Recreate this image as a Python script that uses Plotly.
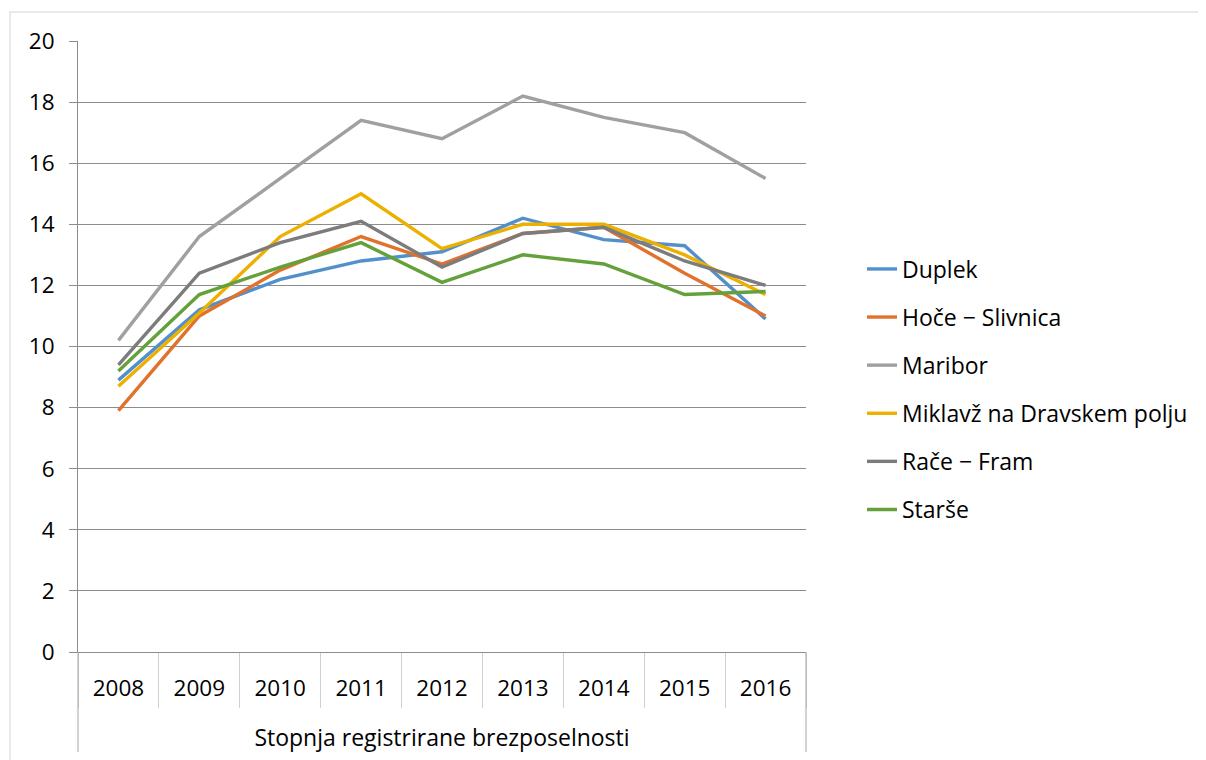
import plotly.graph_objects as go

years = ["2008", "2009", "2010", "2011", "2012", "2013", "2014", "2015", "2016"]
group_label = "Stopnja registrirane brezposelnosti"

duplek = [8.9, 11.2, 12.2, 12.8, 13.1, 14.2, 13.5, 13.3, 10.9]
hoce_slivnica = [7.9, 11.0, 12.5, 13.6, 12.7, 13.7, 13.9, 12.4, 11.0]
maribor = [10.2, 13.6, 15.5, 17.4, 16.8, 18.2, 17.5, 17.0, 15.5]
miklavz = [8.7, 11.1, 13.6, 15.0, 13.2, 14.0, 14.0, 13.0, 11.7]
race_fram = [9.4, 12.4, 13.4, 14.1, 12.6, 13.7, 13.9, 12.8, 12.0]
starse = [9.2, 11.7, 12.6, 13.4, 12.1, 13.0, 12.7, 11.7, 11.8]

series_names = ["Duplek", "Hoče − Slivnica", "Maribor", "Miklavž na Dravskem polju", "Rače − Fram", "Starše"]
series_values = [duplek, hoce_slivnica, maribor, miklavz, race_fram, starse]
colors = ["#5390CB", "#E0722C", "#A0A0A0", "#EBB000", "#7C7C7C", "#64A13B"]

y_ticks = [0, 2, 4, 6, 8, 10, 12, 14, 16, 18, 20]

FONT = "Open Sans"
PLOT_W = 728.0
PLOT_H = 611.0
# the page body adds an 8px offset; compensate in the margins
OFF = 8

fig = go.Figure()
for i, (name, vals, col) in enumerate(zip(series_names, series_values, colors)):
    fig.add_trace(go.Scatter(
        x=years, y=vals, name=name, mode="lines",
        line=dict(color=col, width=3.4),
        legendgroup=f"g{i}",
    ))

divider_depth = -100 / PLOT_H
shapes = [dict(
    type="rect", xref="paper", yref="paper",
    x0=-68 / PLOT_W, x1=1.7, y0=-0.3, y1=1 + 29 / PLOT_H,
    line=dict(color="#E3E3E3", width=1.5), layer="below",
)]
for xe in (0, 1):
    shapes.append(dict(
        type="line", xref="paper", yref="paper",
        x0=xe, x1=xe, y0=0, y1=divider_depth,
        line=dict(color="#A6A6A6", width=1),
    ))

fig.update_layout(
    width=1206 - OFF, height=760 - OFF,
    margin=dict(l=78 - OFF, r=1206 - 78 - int(PLOT_W), t=41 - OFF, b=760 - 41 - int(PLOT_H)),
    paper_bgcolor="white", plot_bgcolor="white",
    font=dict(family=FONT, size=22.5, color="#000000"),
    showlegend=True,
    legend=dict(
        x=1 + (867 - 5 - 806) / PLOT_W, xanchor="left",
        y=(652 - 389.5) / PLOT_H, yanchor="middle",
        traceorder="grouped", tracegroupgap=15.2,
        font=dict(family=FONT, size=23, color="#000000"),
        bgcolor="rgba(0,0,0,0)",
    ),
    xaxis=dict(
        type="category", range=[-0.5, 8.5],
        tickson="boundaries",
        showline=True, linecolor="#8C8C8C", linewidth=1,
        ticks="outside", ticklen=55, tickcolor="#D0D0D0", tickwidth=1,
        ticklabelstandoff=16,
        showgrid=False, zeroline=False, automargin=False,
        tickfont=dict(family=FONT, size=22.5, color="#000000"),
        title=dict(text=group_label, standoff=27,
                   font=dict(family=FONT, size=23, color="#000000")),
    ),
    yaxis=dict(
        range=[0, 20], tickvals=y_ticks,
        showgrid=True, gridcolor="#8C8C8C", gridwidth=1,
        showline=True, linecolor="#8C8C8C", linewidth=1,
        ticks="outside", ticklen=8, tickcolor="#8C8C8C",
        zeroline=False, automargin=False,
        tickfont=dict(family=FONT, size=22.5, color="#000000"),
        ticklabelstandoff=10,
    ),
    shapes=shapes,
)

fig.write_html("out.html")
